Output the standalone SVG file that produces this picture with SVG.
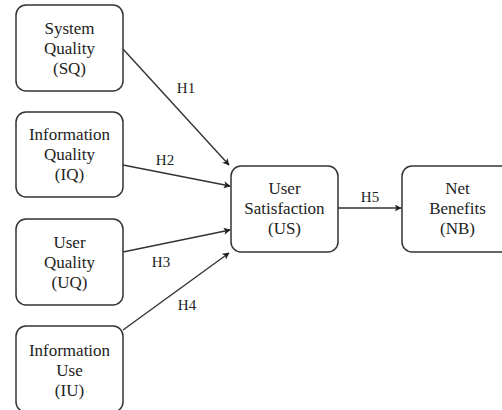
<svg xmlns="http://www.w3.org/2000/svg" width="502" height="410" viewBox="0 0 502 410">
<style>
.box{fill:#fff;stroke:#333;stroke-width:1.5}
.t{font-size:17px;fill:#222;text-anchor:middle}
.lbl{font-size:15px;fill:#222;text-anchor:middle}
.c{stroke:#333;stroke-width:1.4;fill:none;marker-end:url(#ah)}
</style>
<defs>
<marker id="ah" viewBox="0 0 10 10" refX="9" refY="5" markerWidth="7" markerHeight="7" markerUnits="userSpaceOnUse" orient="auto">
<path d="M0,0 L10,5 L0,10 L2.5,5 z" fill="#222"/>
</marker>
</defs>
<rect width="502" height="410" fill="#fff"/>
<g id="connectors" font-family="Liberation Serif, Times New Roman, serif">
<line class="c" x1="123" y1="49" x2="229" y2="165"/>
<line class="c" x1="123" y1="165" x2="230" y2="186"/>
<line class="c" x1="123" y1="252" x2="230" y2="230"/>
<line class="c" x1="123" y1="330" x2="229" y2="253"/>
<line class="c" x1="338" y1="208" x2="401" y2="208"/>
<text class="lbl" x="186" y="93">H1</text>
<text class="lbl" x="165" y="165">H2</text>
<text class="lbl" x="161" y="267">H3</text>
<text class="lbl" x="187" y="310">H4</text>
<text class="lbl" x="370" y="202">H5</text>
</g>
<g id="nodes" font-family="Liberation Serif, Times New Roman, serif">
<g id="SQ">
<rect class="box" x="16" y="5" width="107" height="86" rx="10"/>
<text class="t" x="69.5" y="34">System</text>
<text class="t" x="69.5" y="54">Quality</text>
<text class="t" x="69.5" y="74">(SQ)</text>
</g>
<g id="IQ">
<rect class="box" x="16" y="112" width="107" height="85" rx="10"/>
<text class="t" x="69.5" y="140">Information</text>
<text class="t" x="69.5" y="160">Quality</text>
<text class="t" x="69.5" y="180">(IQ)</text>
</g>
<g id="UQ">
<rect class="box" x="16" y="219" width="107" height="86" rx="10"/>
<text class="t" x="69.5" y="248">User</text>
<text class="t" x="69.5" y="268">Quality</text>
<text class="t" x="69.5" y="288">(UQ)</text>
</g>
<g id="IU">
<rect class="box" x="16" y="326" width="107" height="86" rx="10"/>
<text class="t" x="69.5" y="356">Information</text>
<text class="t" x="69.5" y="376">Use</text>
<text class="t" x="69.5" y="396">(IU)</text>
</g>
<g id="US">
<rect class="box" x="231" y="166" width="107" height="86" rx="10"/>
<text class="t" x="284.5" y="194">User</text>
<text class="t" x="284.5" y="214">Satisfaction</text>
<text class="t" x="284.5" y="234">(US)</text>
</g>
<g id="NB">
<rect class="box" x="402" y="166" width="111" height="86" rx="10"/>
<text class="t" x="457.5" y="194">Net</text>
<text class="t" x="457.5" y="214">Benefits</text>
<text class="t" x="457.5" y="234">(NB)</text>
</g>
</g>
</svg>
